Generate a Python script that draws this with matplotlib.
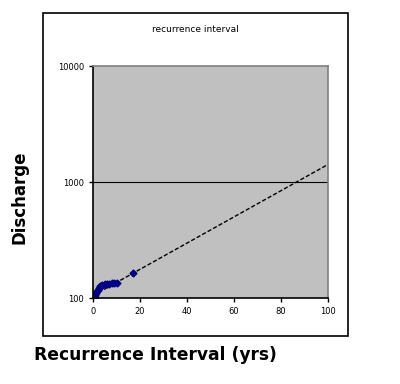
import numpy as np
import matplotlib.pyplot as plt
from matplotlib.patches import Rectangle

# observed floods: recurrence interval (yrs) vs discharge
interval = [0.8, 1.0, 1.3, 1.6, 2.0, 2.5, 3.0, 3.5, 4.0, 5.0, 6.0, 7.0, 8.0, 9.0, 10.0, 17.0]
discharge = [102, 106, 110, 114, 118, 122, 126, 128, 130, 131, 132, 133, 134, 134, 135, 165]

# exponential trendline  Q = a * 10^(b*T)
trend_a = 105
trend_b = 0.0113
trend_x = [0, 100]

fig = plt.figure(figsize=(4, 3.84), dpi=100)
fig.patches.append(Rectangle((43/400, 1-336/384), (348-43)/400, (336-12.7)/384,
                             transform=fig.transFigure, fill=False, ec='black', lw=1.2))

ax = fig.add_axes([93/400, 1-298/384, 235/400, 232/384])
ax.set_facecolor('#c0c0c0')

tx = np.linspace(trend_x[0], trend_x[1], 200)
ax.plot(tx, trend_a * 10**(trend_b*tx), color='black', lw=1, ls=(0, (3, 1.5)))
ax.plot(interval, discharge, 'D', color='#000080', ms=3.5, ls='none')

ax.set_yscale('log')
ax.set_xlim(0, 100)
ax.set_ylim(100, 10000)
ax.set_xticks([0, 20, 40, 60, 80, 100])
ax.set_yticks([100, 1000, 10000])
ax.set_yticklabels(['100', '1000', '10000'])
ax.minorticks_off()
ax.tick_params(labelsize=6, length=3, width=1, colors='black')
ax.axhline(1000, color='black', lw=0.8)

for s in ['left', 'bottom']:
    ax.spines[s].set_color('black')
    ax.spines[s].set_linewidth(1.2)
for s in ['top', 'right']:
    ax.spines[s].set_color('#808080')
    ax.spines[s].set_linewidth(1.2)

fig.text(195/400, 1-29/384, 'recurrence interval', ha='center', va='center', fontsize=6.5)
fig.text(20/400, 1-197/384, 'Discharge', rotation=90, ha='center', va='center',
         fontsize=12, fontweight='bold')
fig.text(155/400, 1-355/384, 'Recurrence Interval (yrs)', ha='center', va='center',
         fontsize=12.3, fontweight='bold')

fig.savefig('out.png', dpi=100)
